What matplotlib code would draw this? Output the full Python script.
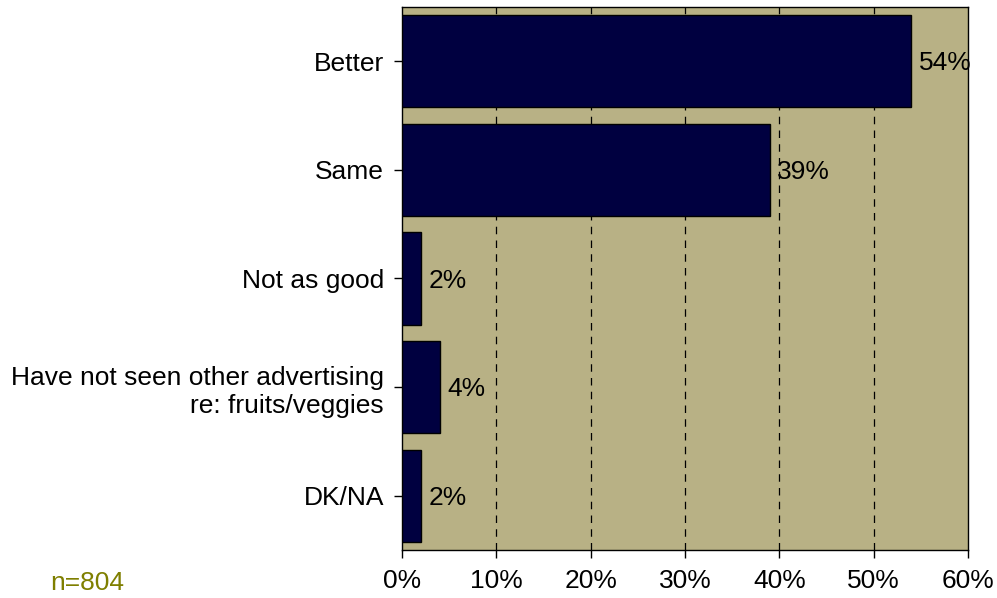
import matplotlib
matplotlib.use("Agg")
import matplotlib.pyplot as plt
from matplotlib.ticker import FuncFormatter

categories = ["Better", "Same", "Not as good",
              "Have not seen other advertising\nre: fruits/veggies", "DK/NA"]
values = [54, 39, 2, 4, 2]
xticks = [0, 10, 20, 30, 40, 50, 60]
sample_note = "n=804"

plt.rcParams["font.family"] = ["Liberation Sans", "DejaVu Sans"]

FS = 19

fig = plt.figure(figsize=(9.97, 5.98), dpi=100)
ax = fig.add_axes([0.4032, 0.0803, 0.5677, 0.908])
ax.set_facecolor("#B8B185")

ypos = list(range(len(categories)))
ax.barh(ypos, values, height=0.85, color="#000040", edgecolor="black", linewidth=1, zorder=3)

ax.set_xlim(0, 60)
ax.set_ylim(len(categories) - 0.5, -0.5)
ax.set_xticks(xticks)
ax.xaxis.set_major_formatter(FuncFormatter(lambda v, p: f"{v:.0f}%"))
ax.set_yticks(ypos)
ax.set_yticklabels(categories, ha="right", multialignment="right", linespacing=1.22)

for gx in xticks[1:-1]:
    ax.axvline(gx, color="black", linestyle=(0, (6, 5)), linewidth=0.9, zorder=1)

for y, v in zip(ypos, values):
    ax.text(v + 0.8, y + 0.02, f"{v}%", va="center", ha="left", fontsize=FS, zorder=4)

ax.tick_params(axis="both", labelsize=FS, direction="out", length=6, width=1, color="black")
ax.tick_params(axis="y", pad=7)
ax.tick_params(axis="x", pad=8)
for s in ax.spines.values():
    s.set_color("black")
    s.set_linewidth(1)

fig.text(0.05, 1 - 583 / 598, sample_note, color="#7F7F00", fontsize=FS,
         ha="left", va="center")

fig.savefig("out.png", dpi=100)
